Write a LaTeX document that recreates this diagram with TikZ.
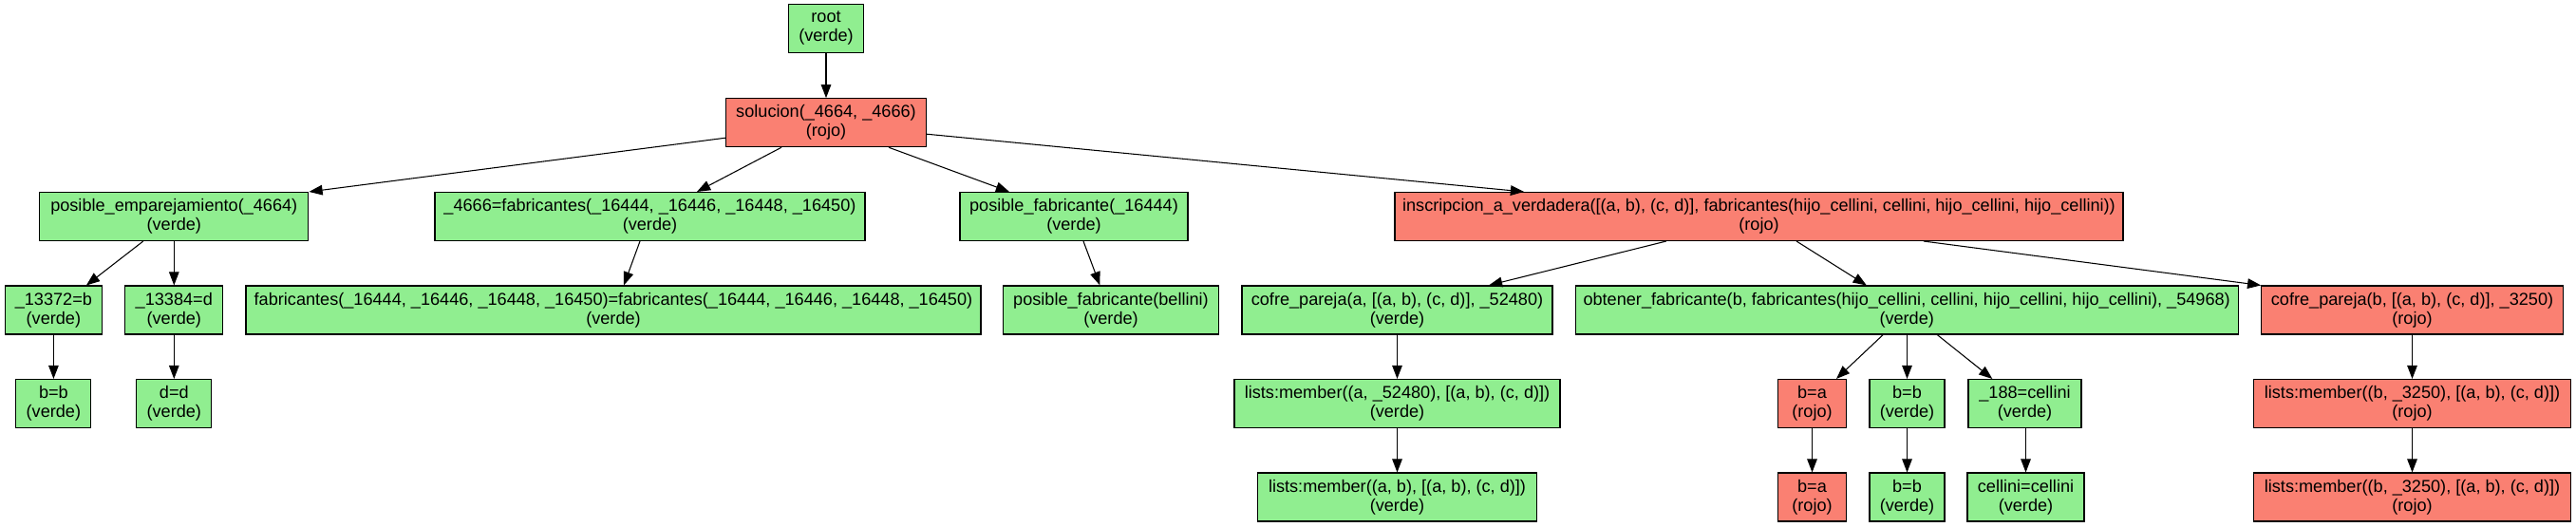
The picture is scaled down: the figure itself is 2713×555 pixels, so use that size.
\documentclass[tikz,border=0pt]{standalone}
\usepackage{fontspec}
\setmainfont{Liberation Sans}
\usetikzlibrary{arrows.meta,calc}

\definecolor{verdeclaro}{HTML}{90EE90}
\definecolor{salmon}{HTML}{FA8072}

\newcommand*{\pxu}{0.7059pt}
\newcommand*{\gvfont}{\fontsize{12.8}{14.1}\selectfont}

\begin{document}
\begin{tikzpicture}
[
	x=\pxu,y=-\pxu,
	caja/.style={draw=black,line width=0.75pt,align=center,font=\gvfont,inner sep=1pt,minimum height=51*\pxu},
	verde/.style={caja,fill=verdeclaro},
	rojo/.style={caja,fill=salmon},
	flecha/.style={-{Triangle[length=10pt,width=7.5pt]},line width=0.75pt}
]

	\useasboundingbox (0,0) rectangle (2713,555);

	% levels 1 and 2
	\node[verde,minimum width=78.6*\pxu] (root) at (870,30) {root\\(verde)};
	\node[rojo,minimum width=210.6*\pxu] (solu) at (870,129.2) {solucion(\_4664, \_4666)\\(rojo)};

	% level 3
	\node[verde,minimum width=283.3*\pxu] (pe) at (183.3,228) {posible\_emparejamiento(\_4664)\\(verde)};
	\node[verde,minimum width=453*\pxu] (f4666) at (684.5,228) {\_4666=fabricantes(\_16444, \_16446, \_16448, \_16450)\\(verde)};
	\node[verde,minimum width=240*\pxu] (pf) at (1131,228) {posible\_fabricante(\_16444)\\(verde)};
	\node[rojo,minimum width=767*\pxu] (insc) at (1852.5,228) {inscripcion\_a\_verdadera([(a, b), (c, d)], fabricantes(hijo\_cellini, cellini, hijo\_cellini, hijo\_cellini))\\(rojo)};

	% level 4
	\node[verde,minimum width=102.7*\pxu] (n13372) at (56.4,326.5) {\_13372=b\\(verde)};
	\node[verde,minimum width=102.7*\pxu] (n13384) at (183.3,326.5) {\_13384=d\\(verde)};
	\node[verde,minimum width=774*\pxu] (fabeq) at (646,326.5) {fabricantes(\_16444, \_16446, \_16448, \_16450)=fabricantes(\_16444, \_16446, \_16448, \_16450)\\(verde)};
	\node[verde,minimum width=227.3*\pxu] (pfb) at (1170,326.5) {posible\_fabricante(bellini)\\(verde)};
	\node[verde,minimum width=327*\pxu] (cofa) at (1471.5,326.5) {cofre\_pareja(a, [(a, b), (c, d)], \_52480)\\(verde)};
	\node[verde,minimum width=698*\pxu] (obt) at (2008.2,326.5) {obtener\_fabricante(b, fabricantes(hijo\_cellini, cellini, hijo\_cellini, hijo\_cellini), \_54968)\\(verde)};
	\node[rojo,minimum width=317.6*\pxu] (cofb) at (2540.5,326.5) {cofre\_pareja(b, [(a, b), (c, d)], \_3250)\\(rojo)};

	% level 5
	\node[verde,minimum width=79*\pxu] (bb1) at (56.4,425) {b=b\\(verde)};
	\node[verde,minimum width=79*\pxu] (dd) at (183.3,425) {d=d\\(verde)};
	\node[verde,minimum width=343*\pxu] (lma) at (1471.5,425) {lists:member((a, \_52480), [(a, b), (c, d)])\\(verde)};
	\node[rojo,minimum width=72.3*\pxu] (ba1) at (1908.5,425) {b=a\\(rojo)};
	\node[verde,minimum width=79*\pxu] (bb2) at (2008.5,425) {b=b\\(verde)};
	\node[verde,minimum width=119*\pxu] (c188) at (2132.5,425) {\_188=cellini\\(verde)};
	\node[rojo,minimum width=334.4*\pxu] (lmb) at (2540.5,425) {lists:member((b, \_3250), [(a, b), (c, d)])\\(rojo)};

	% level 6
	\node[verde,minimum width=294*\pxu] (lmab) at (1471.5,523.5) {lists:member((a, b), [(a, b), (c, d)])\\(verde)};
	\node[rojo,minimum width=72.3*\pxu] (ba2) at (1908.5,523.5) {b=a\\(rojo)};
	\node[verde,minimum width=79*\pxu] (bb3) at (2008.5,523.5) {b=b\\(verde)};
	\node[verde,minimum width=123*\pxu] (cc) at (2133.5,523.5) {cellini=cellini\\(verde)};
	\node[rojo,minimum width=334.4*\pxu] (lmb2) at (2540.5,523.5) {lists:member((b, \_3250), [(a, b), (c, d)])\\(rojo)};

	% edges
	\draw[flecha] (root) -- (solu);
	\draw[flecha] ($(solu.west)+(0,16)$) -- (pe.north east);
	\draw[flecha] ($(solu.south)+(-47,0)$) -- ($(f4666.north)+(49.5,0)$);
	\draw[flecha] ($(solu.south)+(66,0)$) -- ($(pf.north)+(-68,0)$);
	\draw[flecha] ($(solu.east)+(0,12)$) -- ($(insc.north)+(-247.5,0)$);

	\draw[flecha] ($(pe.south)+(-32.5,0)$) -- ($(n13372.north)+(34.5,0)$);
	\draw[flecha] (pe) -- (n13384);
	\draw[flecha] ($(f4666.south)+(-10.5,0)$) -- ($(fabeq.north)+(11,0)$);
	\draw[flecha] ($(pf.south)+(10,0)$) -- ($(pfb.north)+(-11.6,0)$);
	\draw[flecha] ($(insc.south)+(-97.7,0)$) -- ($(cofa.north)+(96.5,0)$);
	\draw[flecha] ($(insc.south)+(39.5,0)$) -- ($(obt.north)+(-42.4,0)$);
	\draw[flecha] ($(insc.south)+(173.5,0)$) -- (cofb.north west);

	\draw[flecha] (n13372) -- (bb1);
	\draw[flecha] (n13384) -- (dd);
	\draw[flecha] (cofa) -- (lma);
	\draw[flecha] ($(obt.south)+(-25,0)$) -- ($(ba1.north)+(25.5,0)$);
	\draw[flecha] (obt.south -| bb2.north) -- (bb2.north);
	\draw[flecha] ($(obt.south)+(32,0)$) -- ($(c188.north)+(-34.2,0)$);
	\draw[flecha] (cofb) -- (lmb);

	\draw[flecha] (lma) -- (lmab);
	\draw[flecha] (ba1) -- (ba2);
	\draw[flecha] (bb2) -- (bb3);
	\draw[flecha] (c188.south -| cc.north) -- (cc.north);
	\draw[flecha] (lmb) -- (lmb2);

\end{tikzpicture}
\end{document}
